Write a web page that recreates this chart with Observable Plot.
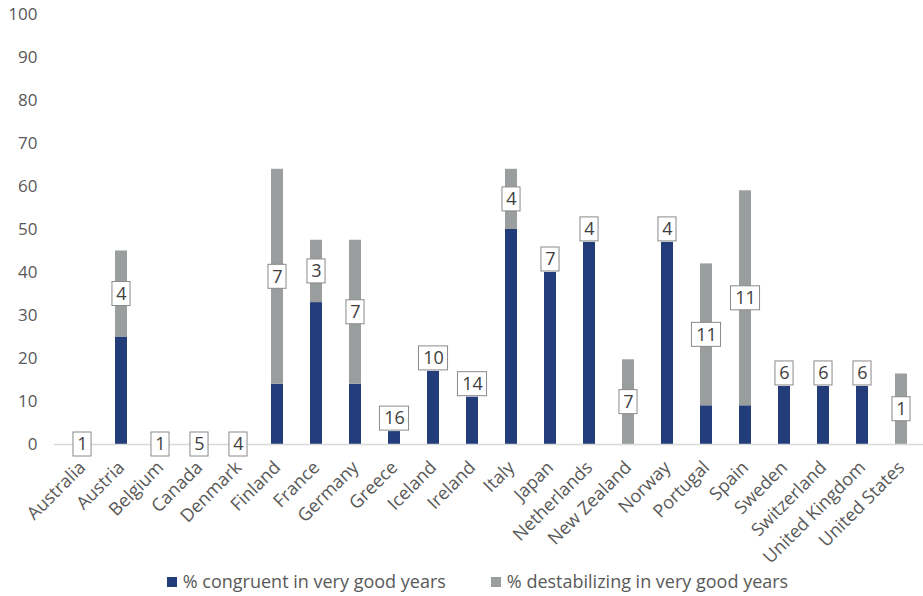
<!DOCTYPE html>
<html><head><meta charset="utf-8">
<script src="https://cdn.jsdelivr.net/npm/d3@7"></script>
<script src="https://cdn.jsdelivr.net/npm/@observablehq/plot@0.6"></script>
<style>
body{margin:0;background:#fff;font-family:"Open Sans",sans-serif;}
#legend{display:flex;justify-content:center;align-items:center;gap:45px;height:36px;font-size:18px;color:#595959;padding-left:32px;padding-top:6px;box-sizing:border-box;width:923px;}
#legend span.sw{display:inline-block;width:10px;height:10px;margin-right:6px;vertical-align:middle;position:relative;top:-1px;}
</style></head><body><div id="chart"></div><div id="legend"></div>
<script>
const countries = ["Australia","Austria","Belgium","Canada","Denmark","Finland","France","Germany","Greece","Iceland","Ireland","Italy","Japan","Netherlands","New Zealand","Norway","Portugal","Spain","Sweden","Switzerland","United Kingdom","United States"];
const congruent     = [0,25,0,0,0,14,33,14,3,17,11,50,40,47,0,47,9,9,13.5,13.5,13.5,0];
const destabilizing = [0,20,0,0,0,50,14.5,33.5,0,0,0,14,0,0,19.7,0,33,50,0,0,0,16.4];
const counts        = [1,4,1,5,4,7,3,7,16,10,14,4,7,4,7,4,11,11,6,6,6,1];
const seriesNames = ["% congruent in very good years","% destabilizing in very good years"];
const seriesColors = ["#233d7b","#9b9e9f"];
const yTicks = [0,10,20,30,40,50,60,70,80,90,100];

const W = 923, H = 560, mTop = 14, mBottom = 116;
const pxPerUnit = (H - mTop - mBottom) / 100;
const xRange = [53.7, 928.3];
const padInner = 0.7, padOuter = 0.35;
const step = (xRange[1]-xRange[0]) / (countries.length - padInner + 2*padOuter);
const bw = step * (1 - padInner);

const long = [];
countries.forEach((c,i)=>{
  long.push({country:c, series:seriesNames[0], value:congruent[i]});
  long.push({country:c, series:seriesNames[1], value:destabilizing[i]});
});
const labelRows = countries.map((c,i)=>({
  country:c, label:String(counts[i]),
  yc: destabilizing[i] > 0 ? congruent[i] + destabilizing[i]/2
     : congruent[i] > 0 ? congruent[i] + 13/pxPerUnit : 0
}));

const ctx = document.createElement("canvas").getContext("2d");
ctx.font = "18px 'Open Sans'";
const groups = d3.group(labelRows, d => Math.round(ctx.measureText(d.label).width + 8));
const boxMarks = [];
for (const [w, rows] of groups) {
  const ins = (bw - w)/2;
  boxMarks.push(Plot.barY(rows, {x:"country", y1:"yc", y2:"yc", fill:"white", stroke:"#8a8a8a", strokeWidth:1,
    insetLeft:ins, insetRight:ins, insetTop:-12, insetBottom:-12}));
}

const chart = Plot.plot({
  width: W, height: H,
  marginTop: mTop, marginBottom: mBottom, marginLeft: 54, marginRight: 0,
  style: {fontFamily:"'Open Sans', sans-serif", fontSize:"18px", color:"#595959", background:"white", overflow:"visible"},
  x: {domain: countries, range: xRange, paddingInner: padInner, paddingOuter: padOuter, tickRotate:-45, tickSize:0, tickPadding:20, label:null},
  y: {domain:[0,100], ticks: yTicks, tickSize:0, tickPadding:17, label:null},
  color: {domain: seriesNames, range: seriesColors},
  marks: [
    Plot.barY(long, {x:"country", y:"value", fill:"series"}),
    Plot.ruleY([0], {stroke:"#d9d9d9", strokeWidth:1.5}),
    ...boxMarks,
    Plot.text(labelRows, {x:"country", y:"yc", text:"label", fontSize:18, fill:"#404040"})
  ]
});
document.getElementById("chart").appendChild(chart);
chart.querySelectorAll("[aria-label='y-axis tick label'] text, g[aria-label='y-axis'] text").forEach(t=>t.style.fontSize="17px");

const leg = document.getElementById("legend");
seriesNames.forEach((n,i)=>{
  const d = document.createElement("div");
  d.innerHTML = `<span class="sw" style="background:${seriesColors[i]}"></span>${n}`;
  leg.appendChild(d);
});
</script>
</body></html>
